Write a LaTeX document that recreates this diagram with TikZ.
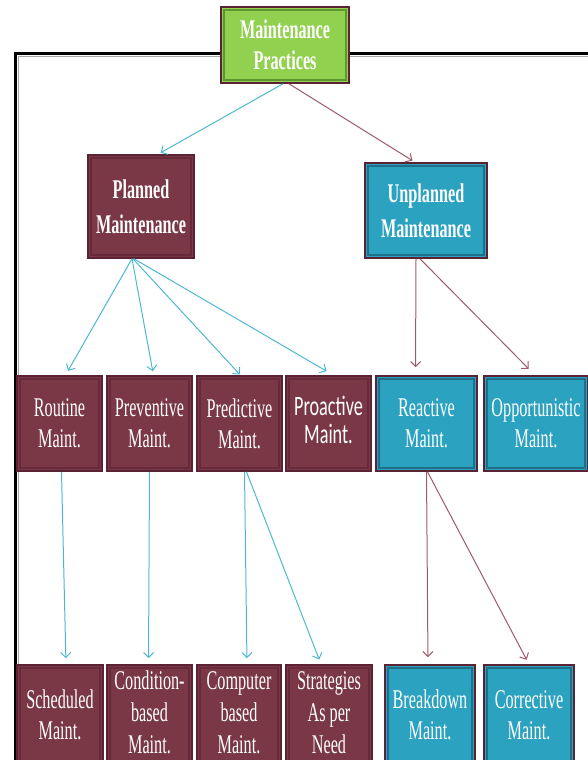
\documentclass[tikz,border=0pt]{standalone}
\usepackage{fontspec}
\usetikzlibrary{arrows.meta,calc}
\newfontfamily\condserif[FakeStretch=0.6]{Liberation Serif}
\newfontfamily\condsans[FakeStretch=0.65]{Carlito}
\definecolor{maroonfill}{HTML}{7A3846}
\definecolor{maroonedge}{HTML}{5A2232}
\definecolor{maroonin}{HTML}{68293A}
\definecolor{tealfill}{HTML}{2BA2C0}
\definecolor{tealin}{HTML}{1F6F88}
\definecolor{greenfill}{HTML}{92D050}
\definecolor{greenin}{HTML}{5F9630}
\definecolor{cyanline}{HTML}{4DB8D2}
\definecolor{maroonline}{HTML}{9C5A6B}
\newcommand{\liftlines}[2]{\raisebox{#1}{\begin{tabular}{@{}c@{}}#2\end{tabular}}}
\tikzset{
  box/.style={rectangle, inner sep=0pt, align=center, text=white, line width=1.6pt,
    draw=maroonedge, font=\condserif\fontsize{27}{31}\selectfont},
  inset/.style={path picture={\draw[#1, line width=1.2pt]
    ([shift={(3pt,3pt)}]path picture bounding box.south west) rectangle
    ([shift={(-3pt,-3pt)}]path picture bounding box.north east);}},
  mbox/.style={box, fill=maroonfill, inset=maroonin},
  tbox/.style={box, fill=tealfill, inset=tealin},
  gbox/.style={box, fill=greenfill, inset=greenin},
  headfont/.style={font=\condserif\bfseries\fontsize{27}{#1}\selectfont},
  threeline/.style={font=\condserif\fontsize{27}{32}\selectfont},
  carrow/.style={draw=cyanline, line width=1pt, -{Straight Barb[length=5pt,width=10pt]}},
  marrow/.style={draw=maroonline, line width=1pt, -{Straight Barb[length=5pt,width=10pt]}},
}
\begin{document}
\begin{tikzpicture}[x=1pt,y=-1pt]
\useasboundingbox (0,0) rectangle (588,760);
\clip (0,0) rectangle (588,760);
% frame
\draw[black, line width=2.5pt] (15.5,780) -- (15.5,53.5) -- (610,53.5);
\draw[black!35, line width=1pt] (18.8,780) -- (18.8,56.8) -- (610,56.8);
% level 0
\node[gbox, headfont=31, minimum width=128pt, minimum height=76pt] (top) at (285,45) {Maintenance\\Practices};
% level 1
\node[mbox, headfont=35, minimum width=106pt, minimum height=103pt] (planned) at (141,206.5) {Planned\\Maintenance};
\node[tbox, headfont=35, minimum width=122pt, minimum height=95pt] (unplanned) at (426,210.5) {Unplanned\\Maintenance};
% level 2
\node[mbox, minimum width=85pt, minimum height=95pt] (routine) at (59.5,423.5) {Routine\\Maint.};
\node[mbox, minimum width=85pt, minimum height=95pt] (preventive) at (149.5,423.5) {Preventive\\Maint.};
\node[mbox, minimum width=85pt, minimum height=95pt] (predictive) at (239.5,423.5) {Predictive\\Maint.};
\node[mbox, minimum width=85pt, minimum height=95pt, font=\condsans\fontsize{28}{28}\selectfont] (proactive) at (328.5,423.5) {\liftlines{6pt}{Proactive\\Maint.}};
\node[tbox, minimum width=101pt, minimum height=95pt] (reactive) at (426.5,423.5) {Reactive\\Maint.};
\node[tbox, minimum width=104pt, minimum height=95pt] (opportunistic) at (536,423.5) {Opportunistic\\Maint.};
% level 3
\node[mbox, minimum width=86pt, minimum height=100pt] (scheduled) at (60,715) {Scheduled\\Maint.};
\node[mbox, threeline, minimum width=85pt, minimum height=100pt] (condition) at (149.5,715) {\liftlines{4pt}{Condition-\\based\\Maint.}};
\node[mbox, threeline, minimum width=84pt, minimum height=100pt] (computer) at (239,715) {\liftlines{4pt}{Computer\\based\\Maint.}};
\node[mbox, threeline, minimum width=86pt, minimum height=100pt] (strategies) at (329,715) {\liftlines{4pt}{Strategies\\As per\\Need}};
\node[tbox, minimum width=90pt, minimum height=100pt] (breakdown) at (430,715) {Breakdown\\Maint.};
\node[tbox, minimum width=90pt, minimum height=100pt] (corrective) at (529,715) {Corrective\\Maint.};
% connectors level 0 -> 1
\draw[carrow, shorten >=3pt] ([xshift=-2pt]top.south) -- ([xshift=17pt]planned.north);
\draw[marrow, shorten >=3pt] ([xshift=4pt]top.south) -- ([xshift=-11pt]unplanned.north);
% level 1 -> 2
\draw[carrow, shorten >=5pt] ([xshift=-9pt]planned.south) -- ([xshift=6pt]routine.north);
\draw[carrow, shorten >=4pt] ([xshift=-9pt]planned.south) -- ([xshift=4pt]preventive.north);
\draw[carrow, shorten >=1pt] ([xshift=-8pt]planned.south) -- ([xshift=1pt]predictive.north);
\draw[carrow, shorten >=8pt] ([xshift=-7pt]planned.south) -- ([xshift=5pt]proactive.north);
\draw[marrow, shorten >=8pt] ([xshift=-10pt]unplanned.south) -- ([xshift=-11pt]reactive.north);
\draw[marrow, shorten >=9pt] ([xshift=-6pt]unplanned.south) -- ([xshift=-1pt]opportunistic.north);
% level 2 -> 3
\draw[carrow, shorten >=6pt] ([xshift=2pt]routine.south) -- ([xshift=6pt]scheduled.north);
\draw[carrow, shorten >=6pt] ([xshift=0pt]preventive.south) -- ([xshift=-1pt]condition.north);
\draw[carrow, shorten >=6pt] ([xshift=5pt]predictive.south) -- ([xshift=8pt]computer.north);
\draw[carrow, shorten >=5pt] ([xshift=7pt]predictive.south) -- ([xshift=-8pt]strategies.north);
\draw[marrow, shorten >=7pt] ([xshift=0pt]reactive.south) -- ([xshift=-2pt]breakdown.north);
\draw[marrow, shorten >=5pt] ([xshift=1pt]reactive.south) -- ([xshift=0pt]corrective.north);
\end{tikzpicture}
\end{document}
